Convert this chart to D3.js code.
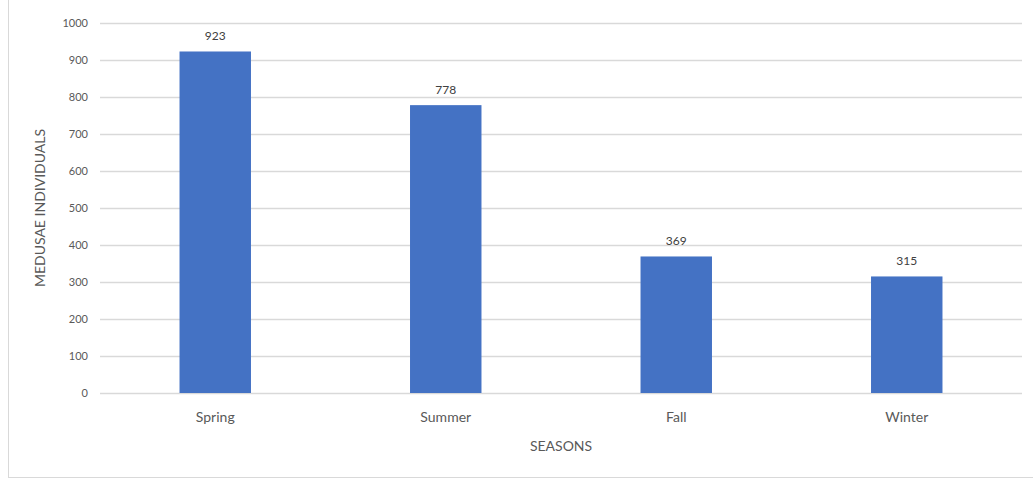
<!DOCTYPE html>
<html>
<head>
<meta charset="utf-8">
<script src="https://cdn.jsdelivr.net/npm/d3@7"></script>
<style>
  html, body { margin: 0; padding: 0; background: #fff; }
  svg { display: block; }
  text { font-family: Lato, "Open Sans", sans-serif; }
</style>
</head>
<body>
<svg id="chart" width="1033" height="478"></svg>
<script>
const categories = ["Spring", "Summer", "Fall", "Winter"];
const values = [923, 778, 369, 315];
const yTicks = [0, 100, 200, 300, 400, 500, 600, 700, 800, 900, 1000];
const xTitle = "SEASONS";
const yTitle = "MEDUSAE INDIVIDUALS";

const svg = d3.select("#chart");
const W = 1033, H = 478;
const m = { left: 100, right: 11, top: 23, bottom: 85 };

// outer chart border (left & bottom visible)
svg.append("rect")
  .attr("x", 8.5).attr("y", -5)
  .attr("width", W + 10).attr("height", 482.5)
  .attr("fill", "none").attr("stroke", "#d9d9d9").attr("stroke-width", 1);

const x = d3.scaleBand().domain(categories).range([m.left, W - m.right]).padding(0);
const y = d3.scaleLinear().domain([0, 1000]).range([H - m.bottom, m.top]);

// gridlines
const yAxis = d3.axisLeft(y).tickValues(yTicks).tickFormat(d3.format("d"))
  .tickSize(-(W - m.right - m.left)).tickPadding(24);
const gy = svg.append("g").attr("transform", `translate(${m.left},0)`).call(yAxis);
gy.select(".domain").remove();
gy.selectAll(".tick line").attr("stroke", "#d9d9d9").attr("stroke-width", 1.3);
gy.selectAll(".tick text").attr("fill", "#595959").style("font-size", "11px").attr("text-anchor", "end").attr("dx", 12);

// bars
const barW = x.bandwidth() * 0.31;
svg.append("g").selectAll("rect").data(values).join("rect")
  .attr("x", (d, i) => x(categories[i]) + x.bandwidth() / 2 - barW / 2)
  .attr("y", d => y(d))
  .attr("width", barW)
  .attr("height", d => y(0) - y(d))
  .attr("fill", "#4472c4");

// data labels
svg.append("g").selectAll("text").data(values).join("text")
  .attr("x", (d, i) => x(categories[i]) + x.bandwidth() / 2)
  .attr("y", d => y(d) - 11)
  .attr("text-anchor", "middle")
  .attr("fill", "#404040")
  .style("font-size", "12px")
  .text(d => d);

// x axis labels
const xAxis = d3.axisBottom(x).tickSize(0).tickPadding(19);
const gx = svg.append("g").attr("transform", `translate(0,${y(0)})`).call(xAxis);
gx.select(".domain").remove();
gx.selectAll(".tick text").attr("fill", "#595959").style("font-size", "14px");

// axis titles
svg.append("text")
  .attr("x", (m.left + W - m.right) / 2)
  .attr("y", 451)
  .attr("text-anchor", "middle")
  .attr("fill", "#595959")
  .style("font-size", "14px")
  .text(xTitle);

svg.append("text")
  .attr("transform", `translate(45,208) rotate(-90)`)
  .attr("text-anchor", "middle")
  .attr("fill", "#595959")
  .style("font-size", "14px")
  .text(yTitle);
</script>
</body>
</html>
